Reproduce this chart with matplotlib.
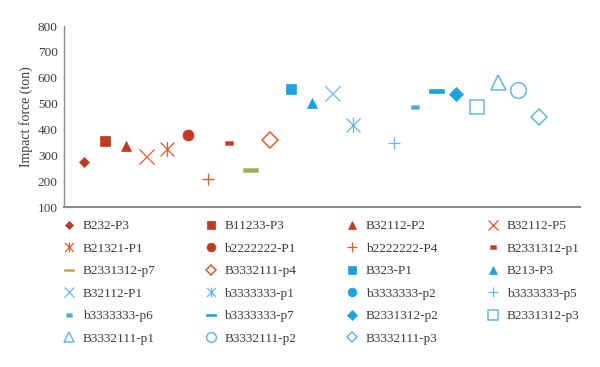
import matplotlib
matplotlib.use("Agg")
import matplotlib.pyplot as plt
import numpy as np
from matplotlib.lines import Line2D
from matplotlib.path import Path


SERIES_LABELS = [
    "B232-P3", "B11233-P3", "B32112-P2", "B32112-P5",
    "B21321-P1", "b2222222-P1", "b2222222-P4", "B2331312-p1",
    "B2331312-p7", "B3332111-p4", "B323-P1", "B213-P3",
    "B32112-P1", "b3333333-p1", "b3333333-p2", "b3333333-p5",
    "b3333333-p6", "b3333333-p7", "B2331312-p2", "B2331312-p3",
    "B3332111-p1", "B3332111-p2", "B3332111-p3",
]
# b3333333-p2 has no visible point in the chart
IMPACT_FORCE = [
    276, 357, 337, 299,
    325, 379, 208, 349,
    245, 360, 558, 504,
    540, 418, np.nan, 349,
    488, 549, 537, 488,
    585, 553, 447,
]
Y_TICKS = [100, 200, 300, 400, 500, 600, 700, 800]

DARK_RED = "#C3391D"
ORANGE = "#E2592C"
BLUE = "#1AA3E3"
LIGHT_BLUE = "#66B7EE"
TEXT_COLOR = "#3C3C3C"

ASTERISK = Path(
    [(-1, -1), (1, 1), (-1, 1), (1, -1), (0, -1.1), (0, 1.1)],
    [Path.MOVETO, Path.LINETO, Path.MOVETO, Path.LINETO, Path.MOVETO, Path.LINETO],
)
SHORT_DASH = [(-1, -0.5), (1, -0.5), (1, 0.5), (-1, 0.5), (-1, -0.5)]
LONG_DASH = [(-1, -0.27), (1, -0.27), (1, 0.27), (-1, 0.27), (-1, -0.27)]

# marker, size, face, edge, edge width
STYLES = [
    ("D", 5.1, DARK_RED, DARK_RED, 0.5),
    ("s", 7.9, DARK_RED, DARK_RED, 0.5),
    ("^", 7.9, DARK_RED, DARK_RED, 0.5),
    ("x", 10.8, ORANGE, ORANGE, 0.9),
    (ASTERISK, 11.0, "none", ORANGE, 0.9),
    ("o", 7.9, DARK_RED, DARK_RED, 0.5),
    ("+", 8.6, ORANGE, ORANGE, 0.9),
    (SHORT_DASH, 5.8, "#BF3A2A", "#DC6E62", 0.6),
    (LONG_DASH, 10.8, "#98B352", "#E0A56A", 0.45),
    ("D", 8.1, "white", ORANGE, 1.1),
    ("s", 7.4, BLUE, BLUE, 0.5),
    ("^", 7.9, BLUE, BLUE, 0.5),
    ("x", 10.8, LIGHT_BLUE, LIGHT_BLUE, 0.9),
    (ASTERISK, 11.0, "none", LIGHT_BLUE, 0.9),
    ("o", 7.9, BLUE, BLUE, 0.5),
    ("+", 8.6, LIGHT_BLUE, LIGHT_BLUE, 0.9),
    (SHORT_DASH, 5.8, "#4EA7DA", "#8ECCF0", 0.6),
    (LONG_DASH, 10.8, BLUE, BLUE, 0.5),
    ("D", 7.1, BLUE, BLUE, 0.5),
    ("s", 10.6, "white", LIGHT_BLUE, 1.1),
    ("^", 10.8, "white", LIGHT_BLUE, 1.1),
    ("o", 11.3, "white", LIGHT_BLUE, 1.1),
    ("D", 8.5, "white", LIGHT_BLUE, 1.1),
]

plt.rcParams["font.family"] = ["Liberation Serif", "DejaVu Serif"]

fig = plt.figure(figsize=(6.0, 3.67), dpi=100)
ax = fig.add_axes([0.106, 0.435, 0.861, 0.494])

handles = []
for i, (label, value, style) in enumerate(zip(SERIES_LABELS, IMPACT_FORCE, STYLES)):
    marker, size, face, edge, width = style
    ax.plot([i + 1], [value], linestyle="none", marker=marker, markersize=size,
            markerfacecolor=face, markeredgecolor=edge, markeredgewidth=width,
            label=label, zorder=3)
    extent = 1.414 if marker == "D" else 1.0
    legend_size = min(size * 0.8, 7.0 / extent)
    handles.append(Line2D([], [], linestyle="none", marker=marker,
                          markersize=legend_size, markerfacecolor=face,
                          markeredgecolor=edge, markeredgewidth=width,
                          label=label))

ax.set_xlim(0, 25)
ax.set_ylim(100, 800)
ax.set_xticks([])
ax.set_yticks(Y_TICKS)
ax.tick_params(axis="y", length=0, pad=4.3, labelsize=9.5, labelcolor=TEXT_COLOR)
ax.set_ylabel("Impact force (ton)", fontsize=10, color=TEXT_COLOR, labelpad=3)
for side in ("top", "right"):
    ax.spines[side].set_visible(False)
ax.spines["left"].set_color("#8C8C8C")
ax.spines["left"].set_linewidth(1.0)
ax.spines["bottom"].set_color("#8C8C8C")
ax.spines["bottom"].set_linewidth(1.5)

# one legend per column, entries laid out row by row
n_cols = 4
col_x = [62.9, 204.2, 345.5, 486.8]
for col in range(n_cols):
    col_handles = handles[col::n_cols]
    fig.legend(handles=col_handles, loc="upper left",
               bbox_to_anchor=(col_x[col] / 600, 1 - 220 / 367),
               frameon=False, fontsize=9.5, labelcolor=TEXT_COLOR,
               handlelength=1.0, handletextpad=0.52, borderpad=0,
               borderaxespad=0, labelspacing=0.78)

fig.savefig("out.png", dpi=100)
